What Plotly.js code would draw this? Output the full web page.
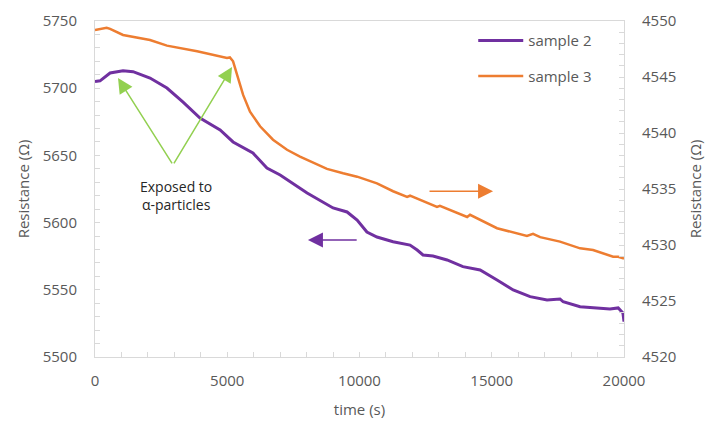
<!DOCTYPE html>
<html>
<head>
<meta charset="utf-8">
<script src="https://cdn.plot.ly/plotly-3.0.1.min.js"></script>
<style>
  html, body { margin: 0; padding: 0; background: #ffffff; }
  #chart { width: 707px; height: 423px; }
</style>
</head>
<body>
<div id="chart"></div>
<script>
// Sample 2 resistance (left axis) over time
const sample2Time = [0, 190, 570, 1060, 1440, 2080, 2720, 3330, 3970, 4610, 4730, 5220, 5970, 6500, 7000, 8020, 9000, 9530, 9910, 10280, 10660, 11270, 11910, 12180, 12400, 12780, 13310, 13910, 14560, 15200, 15810, 16450, 17090, 17580, 17700, 18340, 18980, 19470, 19780, 19960, 20000];
const sample2Ohm  = [5705, 5705.5, 5711.3, 5713.0, 5712.3, 5707.6, 5700.1, 5689.7, 5677.8, 5670.4, 5668.9, 5660.0, 5651.8, 5640.6, 5635.4, 5622.0, 5610.9, 5607.9, 5601.9, 5593.0, 5589.3, 5585.8, 5583.3, 5579.6, 5575.9, 5575.1, 5572.2, 5567.2, 5564.7, 5557.3, 5549.9, 5544.9, 5542.4, 5543.2, 5541.1, 5537.4, 5536.5, 5535.7, 5536.5, 5532.7, 5526.3];

// Sample 3 resistance (right axis) over time
const sample3Time = [0, 440, 570, 1060, 2080, 2720, 3860, 4990, 5100, 5220, 5410, 5600, 5860, 6240, 6730, 7260, 7750, 8240, 8770, 9380, 9910, 10660, 11270, 11800, 11910, 12930, 13040, 14070, 14180, 15200, 16330, 16560, 16830, 17580, 18340, 18830, 19590, 19780, 19960, 20000];
const sample3Ohm  = [4549.2, 4549.4, 4549.3, 4548.75, 4548.3, 4547.8, 4547.3, 4546.7, 4546.75, 4546.4, 4544.9, 4543.4, 4541.9, 4540.6, 4539.4, 4538.5, 4537.9, 4537.4, 4536.8, 4536.4, 4536.1, 4535.5, 4534.8, 4534.3, 4534.4, 4533.4, 4533.5, 4532.5, 4532.7, 4531.5, 4530.8, 4531.0, 4530.7, 4530.3, 4529.7, 4529.55, 4528.95, 4528.95, 4528.8, 4528.8];

const seriesNames = ['sample 2', 'sample 3'];
const exposureLabel = 'Exposed to<br>α-particles';

const PURPLE = '#7030a0';
const ORANGE = '#ed7d31';
const GREEN = '#92d050';
const AXIS_GREY = '#d9d9d9';
const TEXT_GREY = '#595959';
const FONT = 'Open Sans, sans-serif';

const traces = [
  {
    x: sample2Time, y: sample2Ohm, name: seriesNames[0], yaxis: 'y',
    type: 'scatter', mode: 'lines', legendgroup: 'a',
    line: { color: PURPLE, width: 3 }
  },
  {
    x: sample3Time, y: sample3Ohm, name: seriesNames[1], yaxis: 'y2',
    type: 'scatter', mode: 'lines', legendgroup: 'b',
    line: { color: ORANGE, width: 2.5 }
  }
];

const tickFont = { family: FONT, size: 15, color: TEXT_GREY };

const layout = {
  width: 707, height: 423,
  margin: { l: 95, r: 83, t: 21, b: 66 },
  paper_bgcolor: '#ffffff', plot_bgcolor: '#ffffff',
  font: { family: FONT, color: TEXT_GREY },
  showlegend: true,
  legend: {
    x: 0.715, y: 0.99, xanchor: 'left', yanchor: 'top',
    bgcolor: 'rgba(0,0,0,0)', font: { family: FONT, size: 15, color: TEXT_GREY },
    tracegroupgap: 13, itemwidth: 45
  },
  xaxis: {
    range: [0, 20000], dtick: 5000, tick0: 0, tickformat: 'd',
    showgrid: false, zeroline: false,
    showline: true, linecolor: AXIS_GREY, linewidth: 1, mirror: true,
    ticks: 'inside', ticklen: 5, tickcolor: AXIS_GREY,
    minor: { dtick: 1000, ticks: 'inside', ticklen: 5, tickcolor: AXIS_GREY },
    tickfont: tickFont, ticklabelstandoff: 10,
    title: { text: 'time (s)', font: { family: FONT, size: 15, color: TEXT_GREY }, standoff: 15 }
  },
  yaxis: {
    range: [5500, 5750], dtick: 50, tick0: 5500, tickformat: 'd',
    showgrid: false, zeroline: false,
    showline: true, linecolor: AXIS_GREY, linewidth: 1,
    ticks: 'inside', ticklen: 5, tickcolor: AXIS_GREY,
    minor: { dtick: 10, ticks: 'inside', ticklen: 5, tickcolor: AXIS_GREY },
    tickfont: tickFont, ticklabelstandoff: 14,
    title: { text: 'Resistance (Ω)', font: { family: FONT, size: 15, color: TEXT_GREY }, standoff: 9 }
  },
  yaxis2: {
    overlaying: 'y', side: 'right',
    range: [4520, 4550], dtick: 5, tick0: 4520, tickformat: 'd',
    showgrid: false, zeroline: false,
    showline: true, linecolor: AXIS_GREY, linewidth: 1,
    ticks: 'inside', ticklen: 5, tickcolor: AXIS_GREY,
    minor: { dtick: 1, ticks: 'inside', ticklen: 5, tickcolor: AXIS_GREY },
    tickfont: tickFont, ticklabelstandoff: 14,
    title: { text: 'Resistance (Ω)', font: { family: FONT, size: 15, color: TEXT_GREY }, standoff: 15 }
  },
  annotations: [
    // label for the exposure events
    {
      xref: 'x', yref: 'y', x: 3070, y: 5620, text: exposureLabel, showarrow: false,
      font: { family: FONT, size: 14, color: '#262626' }, align: 'center'
    },
    // green pointers to the two exposure moments
    {
      xref: 'x', yref: 'y', axref: 'x', ayref: 'y',
      x: 870, y: 5707.6, ax: 2950, ay: 5642.9, text: '',
      showarrow: true, arrowhead: 2, arrowsize: 2, arrowwidth: 1.5, arrowcolor: GREEN, standoff: 0
    },
    {
      xref: 'x', yref: 'y', axref: 'x', ayref: 'y',
      x: 5180, y: 5715.8, ax: 2950, ay: 5642.9, text: '',
      showarrow: true, arrowhead: 2, arrowsize: 2, arrowwidth: 1.5, arrowcolor: GREEN, standoff: 0
    },
    // axis indicators
    {
      xref: 'x', yref: 'y', axref: 'x', ayref: 'y',
      x: 8050, y: 5587.1, ax: 9950, ay: 5587.1, text: '',
      showarrow: true, arrowhead: 2, arrowsize: 2, arrowwidth: 1.5, arrowcolor: PURPLE, standoff: 0
    },
    {
      xref: 'x', yref: 'y2', axref: 'x', ayref: 'y2',
      x: 15050, y: 4534.8, ax: 12590, ay: 4534.8, text: '',
      showarrow: true, arrowhead: 2, arrowsize: 2, arrowwidth: 1.5, arrowcolor: ORANGE, standoff: 0
    }
  ]
};

Plotly.newPlot('chart', traces, layout, { displayModeBar: false, staticPlot: true });
</script>
</body>
</html>
